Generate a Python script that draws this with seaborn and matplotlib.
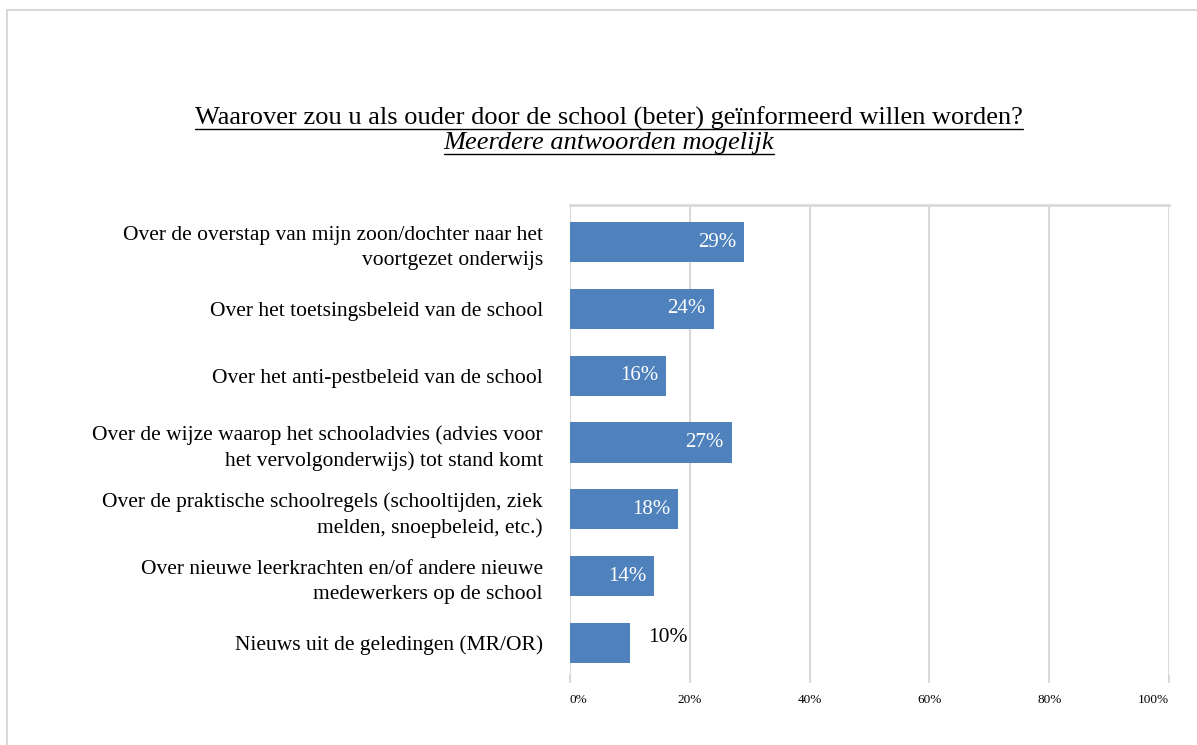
import matplotlib
matplotlib.use("Agg")
import matplotlib.pyplot as plt
import seaborn as sns
import pandas as pd
from matplotlib.patches import Rectangle
from matplotlib.lines import Line2D
from matplotlib.ticker import PercentFormatter

categories = [
    "Over de overstap van mijn zoon/dochter naar het\nvoortgezet onderwijs",
    "Over het toetsingsbeleid van de school",
    "Over het anti-pestbeleid van de school",
    "Over de wijze waarop het schooladvies (advies voor\nhet vervolgonderwijs) tot stand komt",
    "Over de praktische schoolregels (schooltijden, ziek\nmelden, snoepbeleid, etc.)",
    "Over nieuwe leerkrachten en/of andere nieuwe\nmedewerkers op de school",
    "Nieuws uit de geledingen (MR/OR)",
]
values = [0.29, 0.24, 0.16, 0.27, 0.18, 0.14, 0.10]
value_labels = ["29%", "24%", "16%", "27%", "18%", "14%", "10%"]
x_ticks = [0, 0.2, 0.4, 0.6, 0.8, 1.0]

title_line1 = "Waarover zou u als ouder door de school (beter) geïnformeerd willen worden?"
title_line2 = "Meerdere antwoorden mogelijk"

sns.set_style("white")
plt.rcParams['font.family'] = ['Liberation Serif', 'DejaVu Serif']
plt.rcParams['text.color'] = 'black'

df = pd.DataFrame({"cat": categories, "val": values})

fig = plt.figure(figsize=(11.97, 7.45), dpi=100)
ax = fig.add_axes([570/1197, 1-675/745, (1169-570)/1197, (675-205)/745])

bar_color = "#4F81BD"
sns.barplot(data=df, y="cat", x="val", orient="h", color=bar_color,
            width=0.6, saturation=1, ax=ax, edgecolor="none")

ax.set_xlim(0, 1.0)
ax.set_ylim(6.48, -0.554)
ax.set_xticks(x_ticks)
ax.xaxis.set_major_formatter(PercentFormatter(1.0, decimals=0))
ax.set_xlabel("")
ax.set_ylabel("")
grid_c = "#D9D9D9"
ax.grid(axis="x", color=grid_c, linewidth=1.5)
ax.set_axisbelow(True)
for s in ["left", "right", "bottom"]:
    ax.spines[s].set_visible(False)
ax.spines["top"].set_visible(True)
ax.spines["top"].set_color(grid_c)
ax.spines["top"].set_linewidth(2)
ax.tick_params(axis="x", bottom=True, length=6, width=1.5, color=grid_c,
               labelsize=9.5, pad=8, labelcolor="#000000")
ax.tick_params(axis="y", left=False, labelsize=15.5, pad=16, labelcolor="#000000")
for lbl in ax.get_yticklabels():
    lbl.set_linespacing(1.45)
xt = ax.get_xticklabels()
xt[0].set_ha("left")
xt[-1].set_ha("right")

for i, (v, lab) in enumerate(zip(values, value_labels)):
    if i == len(values) - 1:
        ax.text(v + 0.03, i - 0.08, lab, ha="left", va="center",
                color="black", fontsize=15.5)
    else:
        ax.text(v - 0.013, i, lab, ha="right", va="center",
                color="white", fontsize=15)

# Title with underline
t1 = fig.text(609/1197, 1-118/745, title_line1, ha="center", va="center",
              fontsize=19)
t2 = fig.text(609/1197, 1-143/745, title_line2, ha="center", va="center",
              fontsize=19, style="italic")
fig.canvas.draw()
r = fig.canvas.get_renderer()
for t, ypx in [(t1, 129), (t2, 154)]:
    bb = t.get_window_extent(renderer=r).transformed(fig.transFigure.inverted())
    y = 1 - ypx/745
    fig.add_artist(Line2D([bb.x0, bb.x1], [y, y], transform=fig.transFigure,
                          color="black", linewidth=1.0))

# Outer border
fig.add_artist(Rectangle((7/1197, -0.02), 1.05, 1-10/745 + 0.02,
                         transform=fig.transFigure, fill=False,
                         edgecolor=grid_c, linewidth=1.5))

fig.savefig("out.png", dpi=100)
